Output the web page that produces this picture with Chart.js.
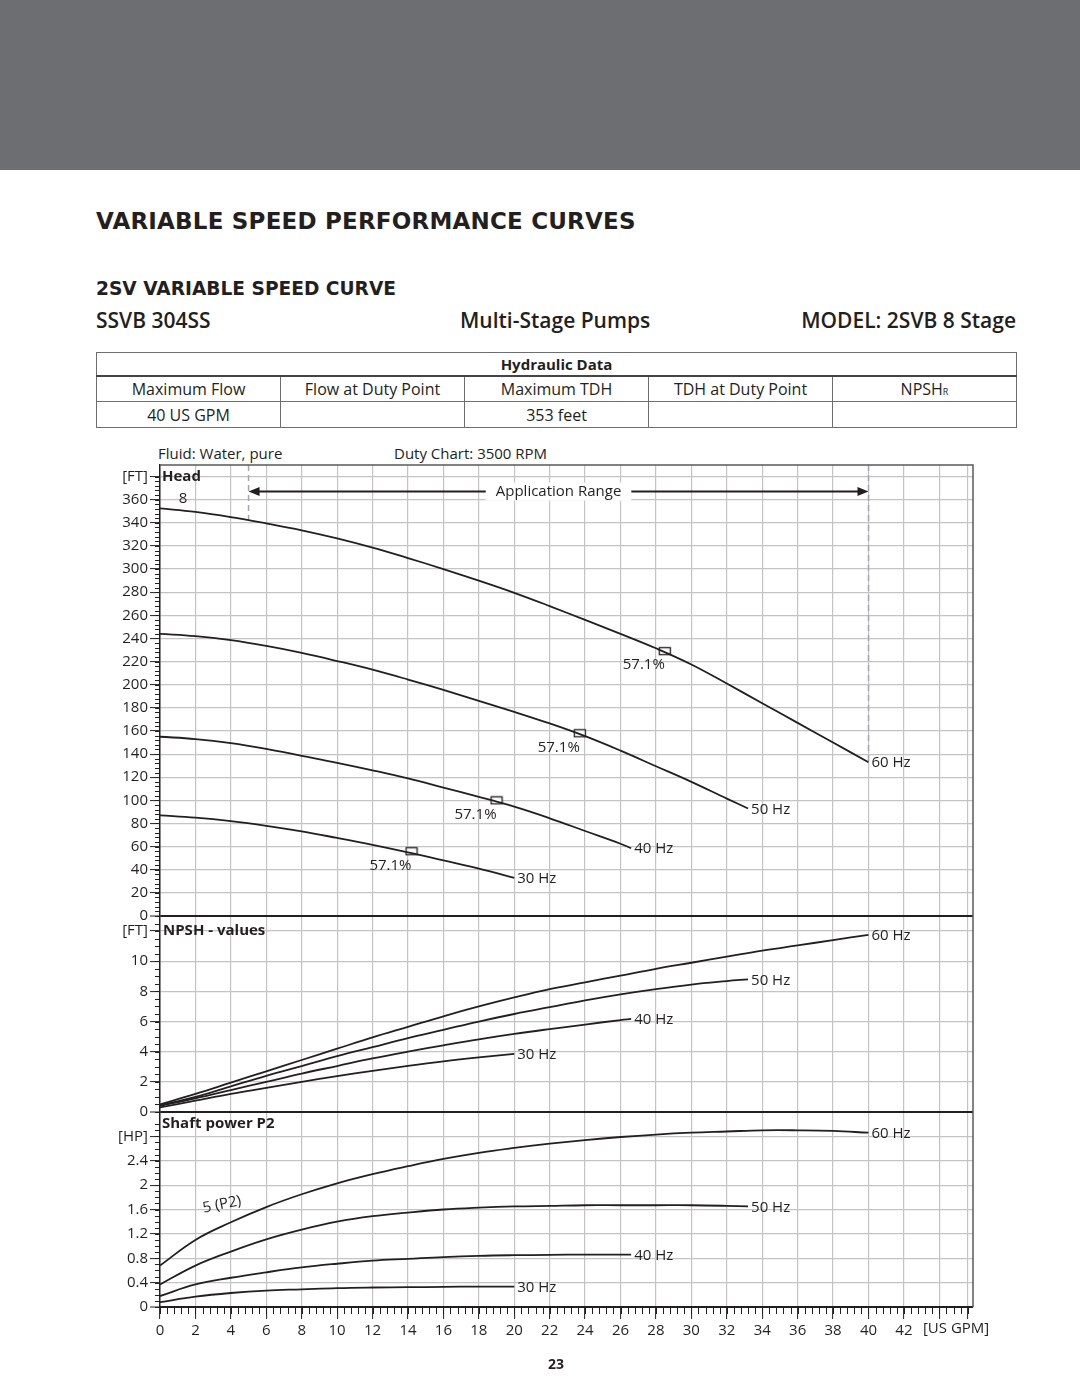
<!DOCTYPE html>
<html>
<head>
<meta charset="utf-8">
<script src="https://cdn.jsdelivr.net/npm/chart.js@4.4.1/dist/chart.umd.min.js"></script>
<style>
  body { margin: 0; width: 1080px; height: 1397px; position: relative; overflow: hidden; background: #fff;
         font-family: 'Open Sans', sans-serif; color: #231f20; }
  .band { position: absolute; left: 0; top: 0; width: 1080px; height: 170px; background: #6d6e71; }
  .t { position: absolute; white-space: nowrap; line-height: 30px; }
  .h1 { left: 96px; top: 206px; font-family: 'DejaVu Sans', sans-serif; font-size: 23px; font-weight: 700; letter-spacing: 0.2px; }
  .h2 { left: 96px; top: 274px; font-family: 'DejaVu Sans', sans-serif; font-size: 18.6px; font-weight: 700; }
  .h3 { top: 305px; font-size: 21px; font-weight: 600; }
  .small { font-size: 15px; top: 438px; }
  table.hd { position: absolute; left: 96px; top: 352px; width: 921px; border-collapse: collapse; table-layout: fixed; }
  table.hd td, table.hd th { border: 1px solid #6d6e71; text-align: center; padding: 0; font-size: 16px; font-weight: 400; color: #231f20; }
  table.hd th { font-weight: 700; font-size: 15px; border-bottom: 2px solid #444; }
  .r1 { height: 23px; } .r2 { height: 26px; } .r3 { height: 26px; }
  #chart { position: absolute; left: 0; top: 440px; }
</style>
</head>
<body>
<div class="band"></div>
<div class="t h1">VARIABLE SPEED PERFORMANCE CURVES</div>
<div class="t h2">2SV VARIABLE SPEED CURVE</div>
<div class="t h3" style="left:96px">SSVB 304SS</div>
<div class="t h3" style="left:460px">Multi-Stage Pumps</div>
<div class="t h3" style="right:64px">MODEL: 2SVB 8 Stage</div>
<table class="hd">
  <tr class="r1"><th colspan="5">Hydraulic Data</th></tr>
  <tr class="r2"><td>Maximum Flow</td><td>Flow at Duty Point</td><td>Maximum TDH</td><td>TDH at Duty Point</td><td>NPSH<span style="font-size:9px">R</span></td></tr>
  <tr class="r3"><td>40 US GPM</td><td></td><td>353 feet</td><td></td><td></td></tr>
</table>
<div class="t small" style="left:158px">Fluid: Water, pure</div>
<div class="t small" style="left:394px">Duty Chart: 3500 RPM</div>
<canvas id="chart" width="1080" height="920"></canvas>
<div class="t" style="left:536px;width:40px;text-align:center;top:1349px;font-size:14px;font-weight:700">23</div>

<script>
// flow points (US GPM) for each speed
const flow60 = [0, 2, 4, 6, 8, 10, 12, 14, 16, 18, 20, 22, 24, 26, 28, 30, 32, 34, 36, 38, 40];
const flow50 = [0, 2, 4, 6, 8, 10, 12, 14, 16, 18, 20, 22, 24, 26, 28, 30, 32, 33.2];
const flow40 = [0, 2, 4, 6, 8, 10, 12, 14, 16, 18, 20, 22, 24, 26, 26.6];
const flow30 = [0, 2, 4, 6, 8, 10, 12, 14, 16, 18, 20];

// head [ft]
const head60 = [352.5, 349.5, 345, 339.5, 333.5, 326.5, 318.5, 309.5, 300, 290, 279.5, 268, 256, 244, 231.5, 217.5, 201, 184, 167, 150, 133];
const head50 = [244, 242, 238.5, 233.5, 227.5, 220.5, 213, 204.5, 195.5, 186, 176.5, 166.5, 155.5, 143, 129.5, 116, 101.5, 93];
const head40 = [155, 153, 149.5, 144.5, 138.5, 132.5, 126, 119, 111, 103, 94.5, 84.5, 73.5, 62.5, 58.6];
const head30 = [87, 85, 82, 78, 73.2, 67.5, 61.5, 55, 48, 41, 33];

// NPSH [ft]
const npsh60 = [0.5, 1.2, 1.95, 2.7, 3.45, 4.2, 4.95, 5.65, 6.35, 7.0, 7.6, 8.15, 8.6, 9.05, 9.5, 9.9, 10.3, 10.7, 11.05, 11.4, 11.75];
const npsh50 = [0.45, 1.0, 1.7, 2.4, 3.05, 3.7, 4.3, 4.9, 5.45, 6.0, 6.5, 6.95, 7.4, 7.8, 8.15, 8.45, 8.68, 8.8];
const npsh40 = [0.4, 0.9, 1.45, 2.0, 2.55, 3.05, 3.55, 4.0, 4.42, 4.82, 5.18, 5.5, 5.8, 6.1, 6.17];
const npsh30 = [0.3, 0.75, 1.2, 1.6, 2.0, 2.38, 2.73, 3.06, 3.36, 3.62, 3.85];

// shaft power P2 [HP]
const power60 = [0.68, 1.1, 1.39, 1.64, 1.85, 2.03, 2.18, 2.31, 2.43, 2.53, 2.61, 2.68, 2.74, 2.79, 2.83, 2.86, 2.88, 2.9, 2.9, 2.89, 2.86];
const power50 = [0.37, 0.68, 0.91, 1.11, 1.27, 1.4, 1.49, 1.55, 1.6, 1.63, 1.65, 1.66, 1.67, 1.67, 1.67, 1.67, 1.66, 1.65];
const power40 = [0.18, 0.37, 0.48, 0.57, 0.65, 0.71, 0.76, 0.79, 0.82, 0.84, 0.85, 0.855, 0.86, 0.86, 0.86];
const power30 = [0.08, 0.17, 0.23, 0.27, 0.29, 0.31, 0.32, 0.325, 0.33, 0.335, 0.335];

// duty points (efficiency 57.1%)
const dutyFlow = [28.5, 23.7, 19.0, 14.2];
const dutyHead = [229, 158, 100, 56];
const dutyText = '57.1%';

const freqNames = ['60 Hz', '50 Hz', '40 Hz', '30 Hz'];
const appRangeFlow = [5, 40];

// axis ticks
const xTicks = [0, 2, 4, 6, 8, 10, 12, 14, 16, 18, 20, 22, 24, 26, 28, 30, 32, 34, 36, 38, 40, 42, 44, 45.6];
const headTicks = [0, 20, 40, 60, 80, 100, 120, 140, 160, 180, 200, 220, 240, 260, 280, 300, 320, 340, 360, 380];
const npshTicks = [0, 2, 4, 6, 8, 10, 12];
const powerTicks = [0, 0.4, 0.8, 1.2, 1.6, 2, 2.4, 2.8];

const ink = '#231f20';
const gridGray = '#c4c4c4';
const fontFamily = "'Open Sans', sans-serif";
Chart.defaults.font.family = fontFamily;
Chart.defaults.color = ink;

function curve(xs, ys, axis, name) {
  return {
    type: 'line', endLabel: name, yAxisID: axis,
    data: xs.map((x, i) => ({ x: x, y: ys[i] })),
    borderColor: ink, borderWidth: 1.8, pointRadius: 0,
    tension: 0.4, fill: false
  };
}

// duty point box marker
const box = document.createElement('canvas');
box.width = 14; box.height = 10;
const bc = box.getContext('2d');
bc.fillStyle = '#fff'; bc.fillRect(1, 1, 12, 8);
bc.strokeStyle = ink; bc.lineWidth = 1.3; bc.strokeRect(1.5, 1.5, 11, 7);

const datasets = [
  curve(flow60, head60, 'yHead', freqNames[0]),
  curve(flow50, head50, 'yHead', freqNames[1]),
  curve(flow40, head40, 'yHead', freqNames[2]),
  curve(flow30, head30, 'yHead', freqNames[3]),
  curve(flow60, npsh60, 'yNpsh', freqNames[0]),
  curve(flow50, npsh50, 'yNpsh', freqNames[1]),
  curve(flow40, npsh40, 'yNpsh', freqNames[2]),
  curve(flow30, npsh30, 'yNpsh', freqNames[3]),
  curve(flow60, power60, 'yPower', freqNames[0]),
  curve(flow50, power50, 'yPower', freqNames[1]),
  curve(flow40, power40, 'yPower', freqNames[2]),
  curve(flow30, power30, 'yPower', freqNames[3]),
  {
    type: 'scatter', yAxisID: 'yHead', isDuty: true,
    data: dutyFlow.map((x, i) => ({ x: x, y: dutyHead[i] })),
    pointStyle: box, pointRadius: 7
  }
];

function interp(xs, ys, x) {
  for (let i = 1; i < xs.length; i++) {
    if (x <= xs[i]) return ys[i - 1] + (ys[i] - ys[i - 1]) * (x - xs[i - 1]) / (xs[i] - xs[i - 1]);
  }
  return ys[ys.length - 1];
}

function yScale(ticks, max, weight, stackWeight, topLabel, unit) {
  return {
    type: 'linear', position: 'left', stack: 'pump', stackWeight: stackWeight, weight: weight,
    min: 0, max: max,
    afterBuildTicks: s => { s.ticks = ticks.map(v => ({ value: v })); },
    afterFit: s => { s.width = 60; },
    border: { color: ink, width: 1.5 },
    grid: {
      color: c => (c.tick && c.tick.value === 0) ? ink : gridGray,
      lineWidth: c => (c.tick && c.tick.value === 0) ? 2 : 1.2,
      tickLength: 10, tickColor: ink, tickWidth: 1
    },
    ticks: {
      autoSkip: false, padding: 2, color: ink, font: { size: 15 },
      callback: v => v === topLabel ? unit : String(v)
    }
  };
}

const decor = {
  id: 'decor',
  beforeDatasetsDraw(chart) {
    const { ctx, chartArea: a, scales } = chart;
    const x = scales.x, yH = scales.yHead;
    ctx.save();
    // application range dashed limits
    ctx.strokeStyle = '#a3a6b4'; ctx.lineWidth = 1.5; ctx.setLineDash([6, 4]);
    appRangeFlow.forEach(f => {
      const px = x.getPixelForValue(f);
      ctx.beginPath();
      ctx.moveTo(px, a.top);
      ctx.lineTo(px, yH.getPixelForValue(interp(flow60, head60, f)));
      ctx.stroke();
    });
    ctx.setLineDash([]);
    // arrow line
    const ay = yH.getPixelForValue(367);
    const x1 = x.getPixelForValue(appRangeFlow[0]), x2 = x.getPixelForValue(appRangeFlow[1]);
    const xm = x.getPixelForValue((appRangeFlow[0] + appRangeFlow[1]) / 2);
    ctx.font = '15px ' + fontFamily;
    const tw = ctx.measureText('Application Range').width;
    ctx.fillStyle = '#fff';
    ctx.fillRect(xm - tw / 2 - 10, ay - 9, tw + 20, 18);
    ctx.strokeStyle = ink; ctx.lineWidth = 2;
    ctx.beginPath();
    ctx.moveTo(x1 + 8, ay); ctx.lineTo(xm - tw / 2 - 10, ay);
    ctx.moveTo(xm + tw / 2 + 10, ay); ctx.lineTo(x2 - 8, ay);
    ctx.stroke();
    ctx.fillStyle = ink;
    ctx.beginPath();
    ctx.moveTo(x1, ay); ctx.lineTo(x1 + 11, ay - 4.5); ctx.lineTo(x1 + 11, ay + 4.5); ctx.closePath();
    ctx.moveTo(x2, ay); ctx.lineTo(x2 - 11, ay - 4.5); ctx.lineTo(x2 - 11, ay + 4.5); ctx.closePath();
    ctx.fill();
    ctx.textAlign = 'center'; ctx.textBaseline = 'middle';
    ctx.fillText('Application Range', xm, ay);
    ctx.restore();
  },
  afterDraw(chart) {
    const { ctx, chartArea: a, scales } = chart;
    const x = scales.x, yH = scales.yHead, yN = scales.yNpsh, yP = scales.yPower;
    ctx.save();
    // frame top/right
    ctx.strokeStyle = '#58595b'; ctx.lineWidth = 1.5;
    ctx.beginPath();
    ctx.moveTo(a.left, a.top); ctx.lineTo(a.right, a.top); ctx.lineTo(a.right, a.bottom);
    ctx.stroke();
    // minor ticks
    ctx.strokeStyle = ink; ctx.lineWidth = 1;
    ctx.beginPath();
    [[yH, 4, 380], [yN, 0.5, 12.5], [yP, 0.1, 3.0]].forEach(([s, step, top]) => {
      for (let i = 0; i * step <= top + 1e-9; i++) {
        const py = Math.round(s.getPixelForValue(i * step)) + 0.5;
        ctx.moveTo(a.left - 5, py); ctx.lineTo(a.left, py);
      }
    });
    for (let i = 0; i * 0.4 <= 45.6 + 1e-9; i++) {
      const px = Math.round(x.getPixelForValue(i * 0.4)) + 0.5;
      ctx.moveTo(px, a.bottom); ctx.lineTo(px, a.bottom + 7);
    }
    ctx.stroke();

    // panel titles
    ctx.fillStyle = ink; ctx.textBaseline = 'middle'; ctx.textAlign = 'left';
    ctx.font = 'bold 15px ' + fontFamily;
    ctx.fillText('Head', a.left + 2, yH.getPixelForValue(380));
    ctx.fillText('NPSH - values', a.left + 3, yN.getPixelForValue(12));
    ctx.fillText('Shaft power P2', a.left + 2, yP.getPixelForValue(3.0));
    ctx.font = '15px ' + fontFamily;
    ctx.textAlign = 'center';
    ctx.fillText('8', x.getPixelForValue(1.3), yH.getPixelForValue(361));
    ctx.textAlign = 'left';
    ctx.fillText('[US GPM]', x.getPixelForValue(42) + 19, a.bottom + 22);

    // rotated stage label
    ctx.save();
    ctx.translate(x.getPixelForValue(3.5), yP.getPixelForValue(1.68));
    ctx.rotate(-0.2);
    ctx.textAlign = 'center';
    ctx.fillText('5 (P2)', 0, 0);
    ctx.restore();

    // end labels and duty labels
    chart.data.datasets.forEach((ds, i) => {
      const meta = chart.getDatasetMeta(i);
      ctx.font = '15px ' + fontFamily;
      if (ds.endLabel) {
        const p = meta.data[meta.data.length - 1];
        ctx.textAlign = 'left';
        ctx.fillText(ds.endLabel, p.x + 3, p.y + 1);
      }
      if (ds.isDuty) {
        ctx.textAlign = 'right';
        meta.data.forEach(p => ctx.fillText(dutyText, p.x, p.y + 14));
      }
    });
    ctx.restore();
  }
};

new Chart(document.getElementById('chart'), {
  data: { datasets: datasets },
  options: {
    responsive: false, animation: false, events: [],
    layout: { padding: { left: 100, top: 25, right: 107, bottom: 13 } },
    plugins: { legend: { display: false }, tooltip: { enabled: false } },
    scales: {
      x: {
        type: 'linear', min: 0, max: 45.9,
        afterBuildTicks: s => { s.ticks = xTicks.map(v => ({ value: v })); },
        afterFit: s => { s.height = 40; },
        border: { color: ink, width: 1.5 },
        grid: { color: gridGray, lineWidth: 1.2, tickLength: 12, tickColor: ink, tickWidth: 1 },
        ticks: {
          autoSkip: false, maxRotation: 0, padding: 3, color: ink, font: { size: 15 },
          callback: v => v <= 42 ? String(v) : ''
        }
      },
      yPower: yScale(powerTicks, 3.2, 1, 195, 2.8, '[HP]'),
      yNpsh: yScale(npshTicks, 13, 2, 196, 12, '[FT]'),
      yHead: yScale(headTicks, 390, 3, 451, 380, '[FT]')
    }
  },
  plugins: [decor]
});
</script>
</body>
</html>
